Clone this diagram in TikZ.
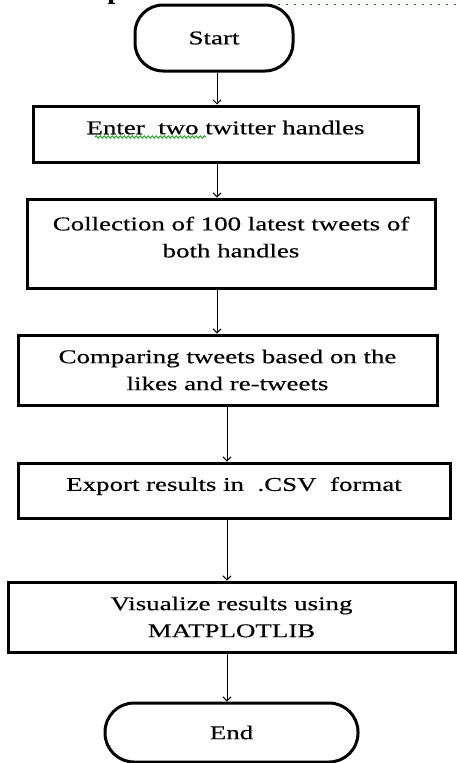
\documentclass[tikz,border=0pt]{standalone}
\usepackage{fontspec}
\setmainfont{Liberation Serif}[FakeStretch=1.38,FakeBold=0.4]
\usetikzlibrary{arrows.meta,decorations.pathmorphing}
\newcommand\lowstrut{\rule[-13pt]{0pt}{13pt}}
\begin{document}
\begin{tikzpicture}[x=1pt,y=-1pt,
    box/.style={draw,line width=3pt,align=center,inner sep=0pt,font=\fontsize{19.5}{27}\selectfont},
    term/.style={box,rounded corners=28pt},
    flow/.style={line width=1pt,-{Straight Barb[length=4pt,width=8pt]}}]
    \useasboundingbox (0,0) rectangle (457,763);
    % scraps of the page above
    \node[anchor=south,inner sep=0pt,font=\fontsize{19.5}{27}\selectfont\bfseries] (pg) at (115,4) {p};
    \draw[green!50!black,line width=1pt,dash pattern=on 1pt off 2pt] (157,4)--(270,4);
    \draw[green!50!black,line width=1pt,dash pattern=on 1.5pt off 6.5pt] (270,4)--(457,4);
    % the steps
    \node[term,minimum width=158pt,minimum height=66pt] (start) at (214,38) {Start};
    \node[box,minimum width=385pt,minimum height=56pt] (enter) at (225.5,134) {Enter\ \ two twitter handles\lowstrut};
    \node[box,minimum width=408pt,minimum height=89pt] (collect) at (231,243.5) {Collection of 100 latest tweets of\\both handles\lowstrut};
    \node[box,minimum width=419pt,minimum height=70pt] (compare) at (227.5,370) {Comparing tweets based on the\\likes and re-tweets};
    \node[box,minimum width=432pt,minimum height=55pt] (export) at (234,490.5) {Export results in\ \ .CSV\ \ format\lowstrut};
    \node[box,minimum width=447pt,minimum height=70pt] (visual) at (231.5,617) {Visualize results using\\MATPLOTLIB};
    \node[term,rounded corners=29pt,minimum width=253pt,minimum height=59pt] (finish) at (231.5,732.5) {End};
    % spell check mark
    \draw[green!60!black,line width=.8pt,decorate,decoration={snake,amplitude=1.2pt,segment length=4pt}] (95,137)--(206,137);
    % arrows
    \coordinate (upper) at (217,0);
    \coordinate (lower) at (227,0);
    \draw[flow] (start.south -| upper) -- (enter.north -| upper);
    \draw[flow] (enter.south -| upper) -- (collect.north -| upper);
    \draw[flow] (collect.south -| upper) -- (compare.north -| upper);
    \draw[flow] (compare.south -| lower) -- (export.north -| lower);
    \draw[flow] (export.south -| lower) -- (visual.north -| lower);
    \draw[flow] (visual.south -| lower) -- (finish.north -| lower);
\end{tikzpicture}
\end{document}
